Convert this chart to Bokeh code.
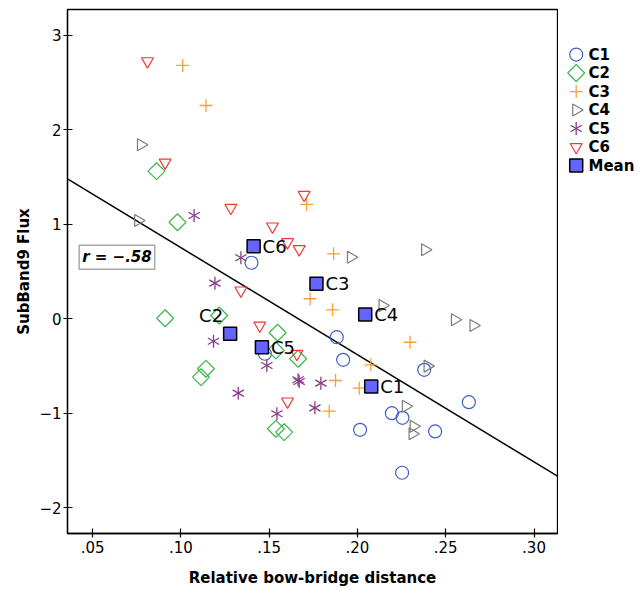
import numpy as np
from bokeh.plotting import figure
from bokeh.layouts import row
from bokeh.models import (Range1d, FixedTicker, CustomJSTickFormatter, Label,
                          ColumnDataSource)
from bokeh.core.properties import value
from bokeh.embed import file_html
from bokeh.resources import INLINE

FONT = "DejaVu Sans"

# ---------------- data ----------------
c1_x = [0.1400, 0.1476, 0.1883, 0.1919, 0.2378, 0.2631, 0.2195, 0.2255, 0.2015, 0.2440, 0.2253]
c1_y = [0.595, -0.368, -0.193, -0.432, -0.538, -0.880, -0.997, -1.046, -1.173, -1.190, -1.627]

c2_x = [0.0862, 0.0981, 0.0911, 0.1217, 0.1548, 0.1538, 0.1664, 0.1142, 0.1114, 0.1538, 0.1585]
c2_y = [1.564, 1.024, 0.008, 0.037, -0.146, -0.333, -0.421, -0.527, -0.616, -1.162, -1.198]

c3_x = [0.1010, 0.1142, 0.1712, 0.1865, 0.1732, 0.1859, 0.2298, 0.2076, 0.1876, 0.2010, 0.1840]
c3_y = [2.683, 2.259, 1.212, 0.690, 0.214, 0.097, -0.246, -0.485, -0.651, -0.732, -0.976]

c4_x = [0.0774, 0.0758, 0.1963, 0.2383, 0.2142, 0.2552, 0.2657, 0.2397, 0.2274, 0.2318, 0.2312]
c4_y = [1.843, 1.042, 0.654, 0.732, 0.143, -0.008, -0.069, -0.499, -0.923, -1.134, -1.215]

c5_x = [0.1075, 0.1340, 0.1193, 0.1185, 0.1487, 0.1325, 0.1664, 0.1670, 0.1793, 0.1759, 0.1544]
c5_y = [1.095, 0.648, 0.379, -0.235, -0.492, -0.785, -0.643, -0.661, -0.679, -0.940, -1.003]

c6_x = [0.0811, 0.0911, 0.1283, 0.1519, 0.1698, 0.1604, 0.1670, 0.1340, 0.1447, 0.1657, 0.1604]
c6_y = [2.728, 1.656, 1.177, 0.979, 1.314, 0.813, 0.739, 0.302, -0.069, -0.368, -0.873]

mean_labels = ["C1", "C2", "C3", "C4", "C5", "C6"]
mean_x = [0.2078, 0.1279, 0.1768, 0.2044, 0.1459, 0.1412]
mean_y = [-0.714, -0.157, 0.372, 0.048, -0.298, 0.771]

fit_x = [0.0358, 0.3133]
fit_y = [1.483, -1.663]

r_text = "r = \u2212.58"

x_ticks = [0.05, 0.10, 0.15, 0.20, 0.25, 0.30]
y_ticks = [-2, -1, 0, 1, 2, 3]

legend_labels = mean_labels + ["Mean"]

# ---------------- styles ----------------
COL = {"C1": "#3f5fc8", "C2": "#3cb84a", "C3": "#f8a038",
       "C4": "#7c7c7c", "C5": "#8a3a8c", "C6": "#ee3a33"}
MEAN_FILL = "#6464ff"


def draw_marks(fig, key, xs, ys):
    if key == "C1":
        fig.scatter(xs, ys, marker="circle", size=13, fill_color=None,
                    line_color=COL[key], line_width=1.2)
    elif key == "C2":
        fig.scatter(xs, ys, marker="square", angle=np.pi / 4, size=12, fill_color=None,
                    line_color=COL[key], line_width=1.2)
    elif key == "C3":
        fig.scatter(xs, ys, marker="cross", size=13, line_color=COL[key], line_width=1.3)
    elif key == "C4":
        fig.scatter(xs, ys, marker="triangle", angle=-np.pi / 2, size=12, fill_color=None,
                    line_color=COL[key], line_width=1.2)
    elif key == "C5":
        for a in (np.pi / 2, np.pi / 2 + 2 * np.pi / 3, np.pi / 2 - 2 * np.pi / 3):
            fig.scatter(xs, ys, marker="dash", angle=a, size=13,
                        line_color=COL[key], line_width=1.3)
    elif key == "C6":
        fig.scatter(xs, ys, marker="inverted_triangle", size=12, fill_color=None,
                    line_color=COL[key], line_width=1.2)
    else:
        fig.scatter(xs, ys, marker="square", size=13, fill_color=MEAN_FILL,
                    line_color="black", line_width=1.5)


# ---------------- main plot ----------------
p = figure(width=558, height=590,
           x_range=Range1d(0.0358, 0.3133), y_range=Range1d(-2.270, 3.275),
           output_backend="svg", toolbar_location=None,
           min_border_left=67, min_border_right=1,
           min_border_top=9, min_border_bottom=57)
p.xgrid.visible = False
p.ygrid.visible = False
p.outline_line_color = "black"
p.outline_line_width = 1.3
p.outline_line_alpha = 1.0
p.background_fill_color = "white"
p.border_fill_color = "white"

p.xaxis.ticker = FixedTicker(ticks=x_ticks)
p.xaxis.formatter = CustomJSTickFormatter(code="return tick.toFixed(2).replace(/^0/, '');")
p.yaxis.ticker = FixedTicker(ticks=y_ticks)
p.yaxis.formatter = CustomJSTickFormatter(
    code="return tick < 0 ? '\\u2212' + (-tick).toFixed(0) : tick.toFixed(0);")
p.xaxis.axis_label = "Relative bow-bridge distance"
p.yaxis.axis_label = "SubBand9 Flux"
for ax in (p.xaxis[0], p.yaxis[0]):
    ax.major_tick_in = 5
    ax.major_tick_out = 4
    ax.minor_tick_line_color = None
    ax.major_tick_line_color = "black"
    ax.major_tick_line_width = 1.2
    ax.axis_line_color = "black"
    ax.axis_line_width = 1.3
    ax.major_label_text_font = FONT
    ax.major_label_text_font_size = "15px"
    ax.major_label_text_color = "black"
    ax.axis_label_text_font = FONT
    ax.axis_label_text_font_size = "15px"
    ax.axis_label_text_font_style = "bold"
    ax.axis_label_text_color = "black"
p.xaxis.major_label_standoff = 3
p.xaxis.axis_label_standoff = 13
p.yaxis.major_label_standoff = 2
p.yaxis.axis_label_standoff = 3

# fit line
p.line(fit_x, fit_y, line_color="black", line_width=1.5)

draw_marks(p, "C1", c1_x, c1_y)
draw_marks(p, "C2", c2_x, c2_y)
draw_marks(p, "C3", c3_x, c3_y)
draw_marks(p, "C4", c4_x, c4_y)
draw_marks(p, "C5", c5_x, c5_y)
draw_marks(p, "C6", c6_x, c6_y)
draw_marks(p, "Mean", mean_x, mean_y)

# mean labels
lab_align = ["left" if l != "C2" else "right" for l in mean_labels]
lab_dx = [9 if l != "C2" else -7 for l in mean_labels]
lab_dy = [0 if l != "C2" else -18 for l in mean_labels]
src = ColumnDataSource(dict(x=mean_x, y=mean_y, t=mean_labels,
                            al=lab_align, dx=lab_dx, dy=lab_dy))
p.text(x="x", y="y", text="t", source=src, text_align="al", x_offset="dx", y_offset="dy",
       text_baseline="middle", text_font=value(FONT), text_font_size="18px",
       text_color="black")

# r annotation
p.add_layout(Label(x=0.0424, y=0.654, text=r_text, text_font=FONT,
                   text_font_size="15px", text_font_style="bold italic",
                   text_baseline="middle", text_color="black",
                   border_line_color="#a8a8a8", border_line_width=1.5,
                   background_fill_color="white", padding=3))

# ---------------- legend panel ----------------
row_px = 20.83
n_units = 590 / row_px
top_units = -50.7 / row_px
leg = figure(width=80, height=590, x_range=Range1d(0, 80),
             y_range=Range1d(top_units + n_units, top_units),
             x_axis_type=None, y_axis_type=None,
             output_backend="svg", toolbar_location=None, min_border=0)
leg.xgrid.visible = False
leg.ygrid.visible = False
leg.outline_line_color = None
leg.background_fill_color = "white"
leg.border_fill_color = "white"
for i, lab in enumerate(legend_labels):
    draw_marks(leg, lab, [17.7], [i])
leg.text(x=[30] * len(legend_labels), y=list(range(len(legend_labels))),
         text=legend_labels, text_baseline="middle", text_align="left",
         text_font=value(FONT), text_font_size="15px", text_font_style="bold",
         text_color="black")

layout = row(p, leg)
open("out.html", "w").write(file_html(layout, INLINE))
